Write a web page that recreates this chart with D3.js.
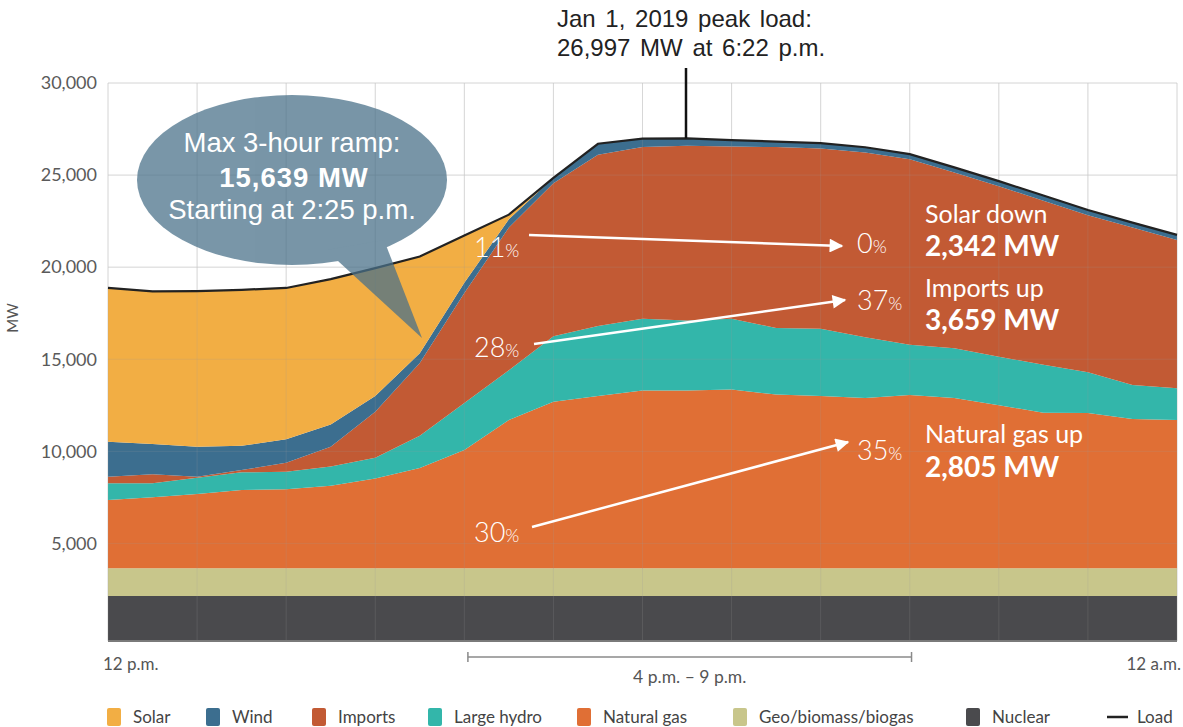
<!DOCTYPE html>
<html>
<head>
<meta charset="utf-8">
<script src="https://cdn.jsdelivr.net/npm/d3@7"></script>
<style>
  body { margin: 0; background: #fff; }
  svg { display: block; font-family: Lato, "Open Sans", sans-serif; }
</style>
</head>
<body>
<div id="chart"></div>
<script>
// hours after 12 p.m.
const hours   = [0, 0.5, 1, 1.5, 2, 2.5, 3, 3.5, 4, 4.5, 5, 5.5, 6, 6.5, 7, 7.5, 8, 8.5, 9, 9.5, 10, 10.5, 11, 11.5, 12];
const nuclear = [2150, 2150, 2150, 2150, 2150, 2150, 2150, 2150, 2150, 2150, 2150, 2150, 2150, 2150, 2150, 2150, 2150, 2150, 2150, 2150, 2150, 2150, 2150, 2150, 2150];
const geo     = [1500, 1500, 1500, 1500, 1500, 1500, 1500, 1500, 1500, 1500, 1500, 1500, 1500, 1500, 1500, 1500, 1500, 1500, 1500, 1500, 1500, 1500, 1500, 1500, 1500];
const gas     = [3710, 3850, 4030, 4250, 4290, 4480, 4880, 5450, 6420, 8050, 9040, 9350, 9650, 9650, 9710, 9430, 9350, 9250, 9410, 9250, 8850, 8450, 8430, 8100, 8050];
const hydro   = [900, 760, 890, 960, 950, 1050, 1120, 1750, 2550, 2700, 3560, 3800, 3900, 3800, 3840, 3620, 3650, 3300, 2720, 2700, 2640, 2600, 2220, 1850, 1720];
const imports = [360, 490, 50, 120, 490, 1070, 2500, 3950, 5980, 7750, 8300, 9300, 9330, 9490, 9350, 9820, 9790, 10030, 10080, 9540, 9250, 8910, 8520, 8550, 8060];
const wind    = [1900, 1650, 1630, 1320, 1270, 1200, 850, 520, 550, 450, 300, 600, 450, 400, 350, 300, 300, 280, 280, 280, 280, 280, 280, 270, 270];
const solar   = [8360, 8280, 8450, 8470, 8220, 7900, 6950, 5260, 2570, 250, 0, 0, 0, 0, 0, 0, 0, 0, 0, 0, 0, 0, 0, 0, 0];
const load    = [18880, 18680, 18700, 18770, 18870, 19350, 19950, 20580, 21720, 22850, 24850, 26700, 26980, 26990, 26900, 26820, 26740, 26510, 26140, 25420, 24670, 23890, 23100, 22420, 21750];

const seriesKeys   = ["nuclear", "geo", "gas", "hydro", "imports", "wind", "solar"];
const seriesColors = ["#4a4a4d", "#c8c68b", "#e06f35", "#33b6aa", "#c25a34", "#3c6e8f", "#f2ae44"];
const legendNames  = ["Solar", "Wind", "Imports", "Large hydro", "Natural gas", "Geo/biomass/biogas", "Nuclear", "Load"];
const legendColors = ["#f2ae44", "#3c6e8f", "#c25a34", "#33b6aa", "#e06f35", "#c8c68b", "#4a4a4d", "#222"];
const yTicks = [5000, 10000, 15000, 20000, 25000, 30000];

const W = 1183, H = 727;
const plotL = 108, plotR = 1177, plotT = 83, plotB = 641;

const rows = hours.map((h, i) => ({
  h, nuclear: nuclear[i], geo: geo[i], gas: gas[i], hydro: hydro[i],
  imports: imports[i], wind: wind[i], solar: solar[i], load: load[i]
}));

const x = d3.scaleLinear().domain([0, 12]).range([plotL, plotR]);
// the source's baseline sits a little under zero
const y = d3.scaleLinear().domain([-300, 30000]).range([plotB, plotT]);

const svg = d3.select("#chart").append("svg").attr("width", W).attr("height", H);

function drawGrid(g) {
  g.selectAll(".hg").data(yTicks).join("line").attr("class", "hg")
    .attr("x1", plotL).attr("x2", plotR).attr("y1", d => y(d)).attr("y2", d => y(d));
  g.selectAll(".vg").data(d3.range(0, 13)).join("line").attr("class", "vg")
    .attr("x1", d => x(d)).attr("x2", d => x(d)).attr("y1", plotT).attr("y2", plotB);
}

// background grid
drawGrid(svg.append("g").attr("stroke", "#e6e6e6").attr("stroke-width", 1));

// stacked areas
const stack = d3.stack().keys(seriesKeys)(rows);
const area = d3.area()
  .x(d => x(d.data.h))
  .y0(d => y(d[0] === 0 ? y.domain()[0] : d[0]))
  .y1(d => y(d[1]));
svg.append("g").selectAll("path").data(stack).join("path")
  .attr("fill", (d, i) => seriesColors[i])
  .attr("d", area);

// faint grid over the areas
drawGrid(svg.append("g").attr("stroke", "#9a9a9a").attr("stroke-opacity", 0.2).attr("stroke-width", 1));

// load line
svg.append("path").datum(rows)
  .attr("fill", "none").attr("stroke", "#222").attr("stroke-width", 2.2)
  .attr("d", d3.line().x(d => x(d.h)).y(d => y(d.load)));

// bottom line
svg.append("line").attr("x1", plotL).attr("x2", plotR).attr("y1", plotB).attr("y2", plotB)
  .attr("stroke", "#7a7a7a").attr("stroke-width", 2);

// y axis
const yAxis = svg.append("g").attr("transform", `translate(${plotL},0)`)
  .call(d3.axisLeft(y).tickValues(yTicks).tickFormat(d3.format(",")).tickSize(0).tickPadding(11));
yAxis.select(".domain").remove();
yAxis.selectAll("text").style("font-size", "18px").style("fill", "#5a5a5a").style("font-family", "Lato, sans-serif");

svg.append("text").attr("transform", "translate(18,318) rotate(-90)")
  .attr("text-anchor", "middle").style("font-size", "15px").style("fill", "#555").text("MW");

// x labels
svg.append("text").attr("x", 103).attr("y", 670).style("font-size", "17px").style("fill", "#555").text("12 p.m.");
svg.append("text").attr("x", 1181).attr("y", 670).attr("text-anchor", "end").style("font-size", "17px").style("fill", "#555").text("12 a.m.");

// 4 p.m. – 9 p.m. bracket
const br = svg.append("g").attr("stroke", "#8a8a8a").attr("stroke-width", 1.5);
br.append("line").attr("x1", x(4.04)).attr("x2", x(9.02)).attr("y1", 657).attr("y2", 657);
br.append("line").attr("x1", x(4.04)).attr("x2", x(4.04)).attr("y1", 652).attr("y2", 662);
br.append("line").attr("x1", x(9.02)).attr("x2", x(9.02)).attr("y1", 652).attr("y2", 662);
svg.append("text").attr("x", (x(4.04) + x(9.02)) / 2).attr("y", 683).attr("text-anchor", "middle")
  .style("font-size", "17.5px").style("fill", "#555").text("4 p.m. – 9 p.m.");

// legend
const legendX = [107, 206, 312, 428, 577, 733, 966, 1107];
const lg = svg.append("g");
legendNames.forEach((name, i) => {
  if (name === "Load") {
    lg.append("line").attr("x1", legendX[i]).attr("x2", legendX[i] + 21).attr("y1", 717).attr("y2", 717)
      .attr("stroke", legendColors[i]).attr("stroke-width", 2.5);
    lg.append("text").attr("x", legendX[i] + 30).attr("y", 723).style("font-size", "17px").style("fill", "#444").text(name);
  } else {
    lg.append("rect").attr("x", legendX[i]).attr("y", 708).attr("width", 14).attr("height", 18).attr("rx", 2)
      .attr("fill", legendColors[i]);
    lg.append("text").attr("x", legendX[i] + 26).attr("y", 723).style("font-size", "17px").style("fill", "#444").text(name);
  }
});

// peak annotation
svg.append("line").attr("x1", 686).attr("x2", 686).attr("y1", 68).attr("y2", y(26997))
  .attr("stroke", "#111").attr("stroke-width", 2.5);
const peak = svg.append("text").style("font-family", "'Liberation Sans', Arial, sans-serif")
  .style("font-size", "24px").style("fill", "#222").style("word-spacing", "3px");
peak.append("tspan").attr("x", 557).attr("y", 27).text("Jan 1, 2019 peak load:");
peak.append("tspan").attr("x", 557).attr("y", 56).text("26,997 MW at 6:22 p.m.");

// ramp bubble
const bub = svg.append("g").attr("opacity", 0.74);
bub.append("ellipse").attr("cx", 292).attr("cy", 180).attr("rx", 155).attr("ry", 85).attr("fill", "#4a7189");
bub.append("path").attr("d", "M326,250 L422,338 L384,240 Z").attr("fill", "#4a7189");
const bt = svg.append("g").attr("text-anchor", "middle").style("font-family", "'Liberation Sans', Arial, sans-serif").style("fill", "#fff");
bt.append("text").attr("x", 292).attr("y", 152).style("font-size", "27.5px").text("Max 3-hour ramp:");
bt.append("text").attr("x", 294).attr("y", 187).style("font-size", "27.5px").style("font-weight", "bold").style("letter-spacing", "1px").text("15,639 MW");
bt.append("text").attr("x", 292).attr("y", 219).style("font-size", "27.5px").text("Starting at 2:25 p.m.");

// share arrows
svg.append("defs").append("marker").attr("id", "ah").attr("viewBox", "0 0 10 10")
  .attr("refX", 9).attr("refY", 5).attr("markerWidth", 6).attr("markerHeight", 5.5)
  .attr("orient", "auto").attr("markerUnits", "strokeWidth")
  .append("path").attr("d", "M0,0 L10,5 L0,10 Z").attr("fill", "#fff");

const shares = [
  { from: "11", to: "0",  y0: 257, y1: 253, ls: [529, 235], le: [842, 246] },
  { from: "28", to: "37", y0: 357, y1: 310, ls: [534, 344], le: [845, 300] },
  { from: "30", to: "35", y0: 542, y1: 460, ls: [532, 527], le: [848, 442] }
];
shares.forEach(s => {
  svg.append("line").attr("x1", s.ls[0]).attr("y1", s.ls[1]).attr("x2", s.le[0]).attr("y2", s.le[1])
    .attr("stroke", "#fff").attr("stroke-width", 2.5).attr("marker-end", "url(#ah)");
  const a = svg.append("text").attr("x", 474).attr("y", s.y0).style("fill", "#fff").style("font-weight", 300);
  a.append("tspan").style("font-size", "27px").text(s.from);
  a.append("tspan").style("font-size", "18px").text("%");
  const b = svg.append("text").attr("x", 857).attr("y", s.y1).style("fill", "#fff").style("font-weight", 300);
  b.append("tspan").style("font-size", "27px").text(s.to);
  b.append("tspan").style("font-size", "18px").text("%");
});

const notes = [
  { t: "Solar down", v: "2,342 MW", y0: 223, y1: 256 },
  { t: "Imports up", v: "3,659 MW", y0: 297, y1: 330 },
  { t: "Natural gas up", v: "2,805 MW", y0: 443, y1: 477 }
];
notes.forEach(n => {
  svg.append("text").attr("x", 925).attr("y", n.y0).style("fill", "#fff").style("font-size", "25px").style("font-weight", 400).text(n.t);
  svg.append("text").attr("x", 925).attr("y", n.y1).style("fill", "#fff").style("font-size", "28px").style("font-weight", 700).text(n.v);
});
</script>
</body>
</html>
